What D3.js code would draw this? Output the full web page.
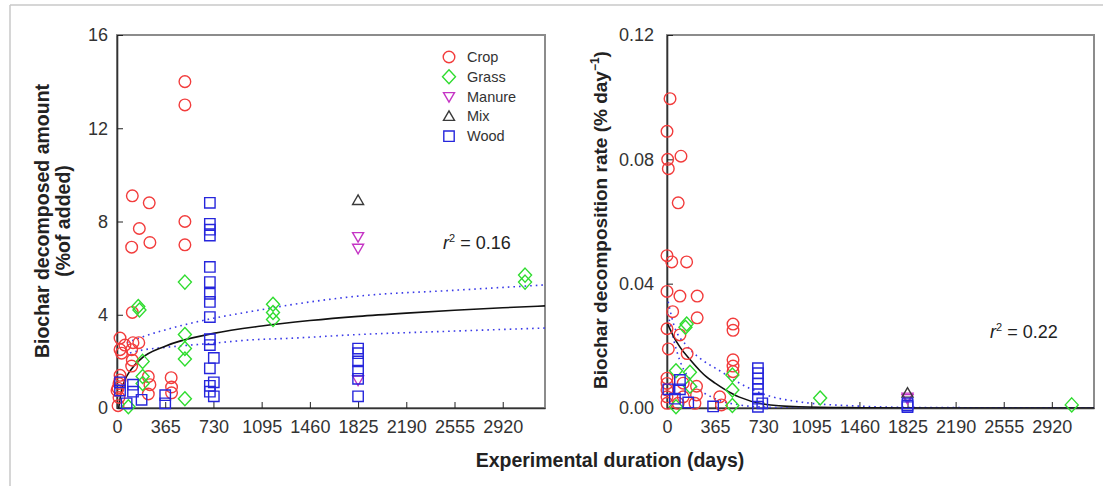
<!DOCTYPE html>
<html>
<head>
<meta charset="utf-8">
<script src="https://cdn.jsdelivr.net/npm/d3@7"></script>
<style>
  body { margin: 0; background: #fff; }
  svg { display: block; font-family: Arial, "Liberation Sans", sans-serif; }
</style>
</head>
<body>
<svg id="chart" width="1103" height="486"></svg>
<script>
// tick labels
var xTicks = [0, 365, 730, 1095, 1460, 1825, 2190, 2555, 2920];
var amountTicks = [0, 4, 8, 12, 16];
var rateTicks = [0, 0.04, 0.08, 0.12];
var categories = ["Crop", "Grass", "Manure", "Mix", "Wood"];

// left panel: decomposed amount (% of added) vs days
var cropAmount = [[514,14.0],[514,13.0],[116,9.1],[244,8.8],[169,7.7],[514,8.0],[111,6.9],[249,7.1],[514,7.0],[116,4.1],
  [23,3.0],[60,2.7],[121,2.8],[165,2.8],[35,2.35],[23,2.5],[111,2.5],[116,2.05],[111,1.8],[23,1.4],[237,1.35],[410,1.3],
  [413,0.9],[15,1.05],[249,1.0],[237,0.6],[413,0.65],[15,0.45],[8,0.85],[8,0.1],[0,0.75],[23,1.2]];
var grassAmount = [[161,4.35],[170,4.2],[514,5.4],[514,3.15],[514,2.55],[514,2.1],[514,0.4],[1181,4.45],[1181,4.1],
  [1181,3.8],[194,2.0],[194,1.35],[194,1.05],[86,0.05],[3089,5.7],[3089,5.4]];
var manureAmount = [[1825,7.35],[1825,6.85],[1825,1.2]];
var mixAmount = [[1825,8.9]];
var woodAmount = [[703,8.8],[703,7.9],[703,7.65],[703,7.4],[703,6.05],[703,5.4],[703,4.9],[703,4.55],[703,3.9],[703,2.95],
  [703,2.7],[733,2.15],[703,1.7],[733,1.1],[703,0.95],[703,0.7],[733,0.5],[365,0.55],[365,0.2],[186,0.35],[121,1.0],
  [121,0.7],[73,0.2],[23,1.1],[23,0.75],[1825,2.55],[1825,2.35],[1825,2.0],[1825,1.6],[1825,1.25],[1825,0.5]];

// right panel: decomposition rate (% per day) vs days
var cropRate = [[23,0.0995],[0,0.089],[5,0.080],[10,0.077],[106,0.081],[85,0.066],[0,0.049],[36,0.047],[149,0.047],
  [0,0.0375],[98,0.036],[229,0.036],[43,0.031],[229,0.029],[0,0.0255],[98,0.0235],[10,0.019],[153,0.0175],[501,0.027],
  [501,0.025],[501,0.0155],[501,0.0135],[501,0.0117],[0,0.0096],[0,0.0079],[0,0.0058],[0,0.0036],[0,0.0015],[123,0.008],
  [123,0.0036],[85,0.0015],[224,0.007],[224,0.0042],[212,0.0015],[400,0.0036],[413,0.001]];
var grassRate = [[149,0.027],[140,0.026],[68,0.012],[174,0.0115],[174,0.007],[68,0.0004],[496,0.0106],[496,0.0058],
  [496,0.0008],[1162,0.0032],[3071,0.001]];
var manureRate = [[1825,0.0035],[1825,0.003]];
var mixRate = [[1825,0.0048]];
var woodRate = [[10,0.006],[98,0.009],[98,0.006],[60,0.003],[161,0.0018],[350,0.0005],[690,0.0128],[690,0.0112],
  [690,0.0095],[690,0.0078],[690,0.006],[690,0.003],[723,0.0015],[690,0.0004],[1825,0.0015],[1825,0.0008],[1825,0.0003]];

// fitted curves and bands
var amountFit = [[13,0],[30,0.65],[60,1.2],[100,1.6],[180,2.1],[365,2.65],[730,3.2],[1095,3.52],[1460,3.75],[1825,3.93],
  [2190,4.07],[2555,4.19],[2920,4.3],[3240,4.38]];
var amountUpper = [[75,2.8],[197,3.06],[365,3.35],[730,3.85],[1005,4.13],[1307,4.42],[1825,4.8],[2555,5.05],[3240,5.28]];
var amountLower = [[98,2.36],[197,2.49],[365,2.6],[730,2.78],[1005,2.92],[1307,2.99],[1825,3.15],[2555,3.3],[3240,3.43]];
var rateFit = [[0,0.0275],[50,0.023],[100,0.0195],[176,0.0155],[250,0.012],[300,0.01],[365,0.008],[500,0.0045],
  [550,0.0035],[730,0.0013],[1000,0.0004],[1460,0.0001],[1825,0],[3240,0]];
var rateUpper = [[0,0.036],[50,0.027],[150,0.02],[250,0.016],[400,0.012],[550,0.008],[730,0.0045],[1000,0.002],
  [1460,0.0006],[1825,0.0002],[3240,0]];
var rateLower = [[0,0.032],[50,0.022],[100,0.015],[200,0.008],[365,0.003],[550,0.001],[730,0.0003],[1000,0],[3240,0]];

var svg = d3.select("#chart");
var colors = { Crop: "#f23c3c", Grass: "#2fdc2f", Manure: "#c535c5", Mix: "#3a3a3a", Wood: "#2626dc" };
var shapes = {
  Crop: "M5.8,0A5.8,5.8 0 1,1 -5.8,0A5.8,5.8 0 1,1 5.8,0Z",
  Grass: "M0,-7L6.5,0L0,7L-6.5,0Z",
  Manure: "M-5.5,-4L5.5,-4L0,5.5Z",
  Mix: "M-5.5,4L5.5,4L0,-5.5Z",
  Wood: "M-5.2,-5.2L5.2,-5.2L5.2,5.2L-5.2,5.2Z"
};

// figure frame
svg.append("line").attr("x1", 10).attr("y1", 5).attr("x2", 1103).attr("y2", 5).attr("stroke", "#c8c8c8").attr("stroke-width", 1.5);
svg.append("line").attr("x1", 10).attr("y1", 5).attr("x2", 10).attr("y2", 486).attr("stroke", "#c8c8c8").attr("stroke-width", 1.5);

function panel(opt) {
  var x = d3.scaleLinear().domain([0, 3240]).range([opt.left, opt.right]);
  var y = d3.scaleLinear().domain(opt.yDomain).range([408, 35]);
  var g = svg.append("g");

  g.append("rect").attr("x", opt.left).attr("y", 35).attr("width", opt.right - opt.left).attr("height", 373)
    .attr("fill", "none").attr("stroke", "#8c8c8c").attr("stroke-width", 2);

  var xAxis = g.append("g").attr("transform", "translate(0,408)")
    .call(d3.axisBottom(x).tickValues(xTicks).tickFormat(d3.format("d")).tickSizeInner(-6).tickSizeOuter(0).tickPadding(12));
  var yAxis = g.append("g").attr("transform", "translate(" + opt.left + ",0)")
    .call(d3.axisLeft(y).tickValues(opt.yTicks).tickFormat(opt.fmt).tickSizeInner(-6).tickSizeOuter(0).tickPadding(opt.pad));
  [xAxis, yAxis].forEach(function (a) {
    a.select(".domain").attr("stroke", "#333").attr("stroke-width", 1.6);
    a.selectAll(".tick line").attr("stroke", "#222");
    a.selectAll(".tick text").attr("font-size", 18).attr("fill", "#333").attr("font-family", "Arial, 'Liberation Sans', sans-serif");
  });

  var clipId = "clip" + opt.left;
  g.append("clipPath").attr("id", clipId).append("rect")
    .attr("x", opt.left).attr("y", 35).attr("width", opt.right - opt.left).attr("height", 373);
  var line = d3.line().x(function (d) { return x(d[0]); }).y(function (d) { return y(d[1]); }).curve(d3.curveMonotoneX);
  var curves = g.append("g").attr("clip-path", "url(#" + clipId + ")");
  curves.append("path").datum(opt.upper).attr("d", line).attr("fill", "none")
    .attr("stroke", "#3a3ae8").attr("stroke-width", 1.6).attr("stroke-dasharray", "1.6,4");
  curves.append("path").datum(opt.lower).attr("d", line).attr("fill", "none")
    .attr("stroke", "#3a3ae8").attr("stroke-width", 1.6).attr("stroke-dasharray", "1.6,4");
  curves.append("path").datum(opt.fit).attr("d", line).attr("fill", "none")
    .attr("stroke", "#111").attr("stroke-width", 1.6);

  categories.forEach(function (c) {
    g.append("g").selectAll("path").data(opt.series[c]).enter().append("path")
      .attr("d", shapes[c])
      .attr("transform", function (d) { return "translate(" + x(d[0]) + "," + y(d[1]) + ")"; })
      .attr("fill", "none").attr("stroke", colors[c]).attr("stroke-width", 1.4);
  });

  var r2 = g.append("text").attr("x", opt.r2x).attr("y", opt.r2y).attr("font-size", 18).attr("fill", "#222");
  r2.append("tspan").attr("font-style", "italic").text("r");
  r2.append("tspan").attr("dy", -7).attr("font-size", 11).text("2");
  r2.append("tspan").attr("dy", 7).text(" = " + opt.r2);
  return { x: x, y: y };
}

panel({
  left: 117, right: 545, yDomain: [0, 16], yTicks: amountTicks, fmt: d3.format("d"), pad: 9,
  series: { Crop: cropAmount, Grass: grassAmount, Manure: manureAmount, Mix: mixAmount, Wood: woodAmount },
  fit: amountFit, upper: amountUpper, lower: amountLower, r2: "0.16", r2x: 443, r2y: 249
});
panel({
  left: 667, right: 1094, yDomain: [0, 0.12], yTicks: rateTicks, fmt: d3.format(".2f"), pad: 13,
  series: { Crop: cropRate, Grass: grassRate, Manure: manureRate, Mix: mixRate, Wood: woodRate },
  fit: rateFit, upper: rateUpper, lower: rateLower, r2: "0.22", r2x: 990, r2y: 338
});

// legend
var legend = svg.append("g").attr("transform", "translate(449,57)");
categories.forEach(function (c, i) {
  var row = legend.append("g").attr("transform", "translate(0," + (i * 19.8) + ")");
  row.append("path").attr("d", shapes[c]).attr("fill", "none").attr("stroke", colors[c]).attr("stroke-width", 1.4);
  row.append("text").attr("x", 18).attr("y", 5).attr("font-size", 14.5).attr("fill", "#333").text(c);
});

// axis titles
svg.append("text").attr("x", 610).attr("y", 467).attr("text-anchor", "middle")
  .attr("font-size", 19.5).attr("font-weight", "bold").attr("fill", "#222").text("Experimental duration (days)");
svg.append("text").attr("transform", "translate(49,221) rotate(-90)").attr("text-anchor", "middle")
  .attr("font-size", 19.5).attr("font-weight", "bold").attr("fill", "#222").text("Biochar decomposed amount");
svg.append("text").attr("transform", "translate(70,221) rotate(-90)").attr("text-anchor", "middle")
  .attr("font-size", 19.5).attr("font-weight", "bold").attr("fill", "#222").text("(%of added)");
var rl = svg.append("text").attr("transform", "translate(607,220) rotate(-90)").attr("text-anchor", "middle")
  .attr("font-size", 19).attr("font-weight", "bold").attr("fill", "#222");
rl.append("tspan").text("Biochar decomposition rate (% day");
rl.append("tspan").attr("dy", -8).attr("font-size", 12).text("\u22121");
rl.append("tspan").attr("dy", 8).text(")");
</script>
</body>
</html>
